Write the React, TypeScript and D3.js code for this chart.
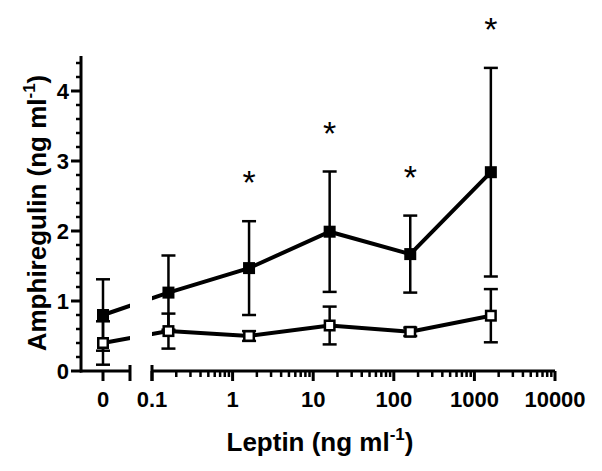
import React from "react";
import * as d3 from "d3";

// ---- data ----
const leptinDoses = [0, 0.16, 1.6, 16, 160, 1600];
const leptinMean = [0.8, 1.12, 1.47, 1.99, 1.67, 2.84];
const leptinErr = [0.51, 0.53, 0.67, 0.86, 0.55, 1.49];
const controlMean = [0.4, 0.57, 0.5, 0.65, 0.56, 0.79];
const controlErr = [0.31, 0.25, 0.07, 0.27, 0.06, 0.38];
const significant = [false, false, true, true, true, true];
const yTicks = [0, 1, 2, 3, 4];
const xLogTicks = [0.1, 1, 10, 100, 1000, 10000];
const xLogTickLabels = ["0.1", "1", "10", "100", "1000", "10000"];

const W = 602;
const H = 471;
const FONT = "'Liberation Sans', Arial, Helvetica, sans-serif";

export default function App() {
  const y = d3.scaleLinear().domain([0, 4.5]).range([371, 56]);
  const xLog = d3.scaleLog().domain([0.1, 10000]).range([152, 555]);
  const xZero = d3.scaleLinear().domain([0, 1]).range([103, 103]);
  const xPos = (v: number) => (v === 0 ? xZero(0) : xLog(v));

  const axisY = 371;
  const yAxisX = 81;
  const seg1 = [80, 130];
  const seg2 = [152, 555];

  const minorY: number[] = d3.range(0, 4.5001, 0.2).filter(
    (v) => Math.abs(v - Math.round(v)) > 1e-6
  );
  const minorX: number[] = [];
  for (let e = -1; e < 4; e++) {
    for (let k = 2; k <= 9; k++) minorX.push(k * Math.pow(10, e));
  }

  const line = d3
    .line<number>()
    .x((_, i) => xPos(leptinDoses[i]))
    .y((d) => y(d));

  const capW = 7;
  const sq = 12;

  const renderSeries = (
    means: number[],
    errs: number[],
    filled: boolean,
    key: string
  ) => (
    <g key={key}>
      <path
        d={line(means) || ""}
        fill="none"
        stroke="#000"
        strokeWidth={4}
        clipPath="url(#gapclip)"
      />
      {means.map((m, i) => {
        const cx = xPos(leptinDoses[i]);
        const top = y(m + errs[i]);
        const bot = y(m - errs[i]);
        return (
          <g key={i}>
            <line x1={cx} x2={cx} y1={top} y2={bot} stroke="#000" strokeWidth={2.5} />
            <line x1={cx - capW} x2={cx + capW} y1={top} y2={top} stroke="#000" strokeWidth={2.5} />
            <line x1={cx - capW} x2={cx + capW} y1={bot} y2={bot} stroke="#000" strokeWidth={2.5} />
            {filled ? (
              <rect x={cx - sq / 2} y={y(m) - sq / 2} width={sq} height={sq} fill="#000" />
            ) : (
              <rect
                x={cx - (sq - 2.5) / 2}
                y={y(m) - (sq - 2.5) / 2}
                width={sq - 2.5}
                height={sq - 2.5}
                fill="#fff"
                stroke="#000"
                strokeWidth={2.5}
              />
            )}
          </g>
        );
      })}
    </g>
  );

  return (
    <svg
      width={W}
      height={H}
      style={{ position: "absolute", left: 0, top: 0, background: "#fff" }}
      fontFamily={FONT}
    >
      <defs>
        <clipPath id="gapclip">
          <rect x={0} y={0} width={seg1[1]} height={H} />
          <rect x={seg2[0]} y={0} width={W - seg2[0]} height={H} />
        </clipPath>
      </defs>
      <rect width={W} height={H} fill="#fff" />

      {/* Y axis */}
      <line x1={yAxisX} x2={yAxisX} y1={y(4.5)} y2={axisY + 1.5} stroke="#000" strokeWidth={3} />
      {yTicks.map((t) => (
        <g key={"yt" + t}>
          <line x1={yAxisX - 10} x2={yAxisX} y1={y(t)} y2={y(t)} stroke="#000" strokeWidth={3} />
          <text
            x={69}
            y={y(t)}
            textAnchor="end"
            dominantBaseline="central"
            fontSize={22}
            fontWeight="bold"
          >
            {t}
          </text>
        </g>
      ))}
      {minorY.map((t) => (
        <line key={"ym" + t} x1={yAxisX - 5} x2={yAxisX} y1={y(t)} y2={y(t)} stroke="#000" strokeWidth={2.5} />
      ))}

      {/* X axis segment 1 (zero) */}
      <line x1={seg1[0]} x2={seg1[1]} y1={axisY} y2={axisY} stroke="#000" strokeWidth={3} />
      <line x1={seg1[1]} x2={seg1[1]} y1={axisY - 6} y2={axisY + 10} stroke="#000" strokeWidth={3} />
      <line x1={xZero(0)} x2={xZero(0)} y1={axisY} y2={axisY + 10} stroke="#000" strokeWidth={3} />
      <text x={xZero(0)} y={407} textAnchor="middle" fontSize={22} fontWeight="bold">
        0
      </text>

      {/* X axis segment 2 (log) */}
      <line x1={seg2[0]} x2={seg2[1]} y1={axisY} y2={axisY} stroke="#000" strokeWidth={3} />
      <line x1={seg2[0]} x2={seg2[0]} y1={axisY - 6} y2={axisY + 10} stroke="#000" strokeWidth={3} />
      {xLogTicks.map((t, i) => (
        <g key={"xt" + t}>
          <line x1={xLog(t)} x2={xLog(t)} y1={axisY} y2={axisY + 10} stroke="#000" strokeWidth={3} />
          <text x={xLog(t)} y={407} textAnchor="middle" fontSize={22} fontWeight="bold">
            {xLogTickLabels[i]}
          </text>
        </g>
      ))}
      {minorX.map((t) => (
        <line key={"xm" + t} x1={xLog(t)} x2={xLog(t)} y1={axisY} y2={axisY + 6} stroke="#000" strokeWidth={2.5} />
      ))}

      {/* Series */}
      {renderSeries(leptinMean, leptinErr, true, "leptin")}
      {renderSeries(controlMean, controlErr, false, "control")}

      {/* Significance asterisks */}
      {leptinMean.map((m, i) =>
        significant[i] ? (
          <text
            key={"ast" + i}
            x={xPos(leptinDoses[i])}
            y={y(m + leptinErr[i]) - 43 + 16}
            textAnchor="middle"
            fontSize={34}
          >
            *
          </text>
        ) : null
      )}

      {/* Axis titles */}
      <text x={320} y={451} textAnchor="middle" fontSize={26} fontWeight="bold">
        Leptin (ng ml
        <tspan fontSize={17} dy={-11}>-1</tspan>
        <tspan dy={11}>)</tspan>
      </text>
      <text
        transform="translate(46,213) rotate(-90)"
        textAnchor="middle"
        fontSize={26}
        fontWeight="bold"
      >
        Amphiregulin (ng ml
        <tspan fontSize={17} dy={-11}>-1</tspan>
        <tspan dy={11}>)</tspan>
      </text>
    </svg>
  );
}
